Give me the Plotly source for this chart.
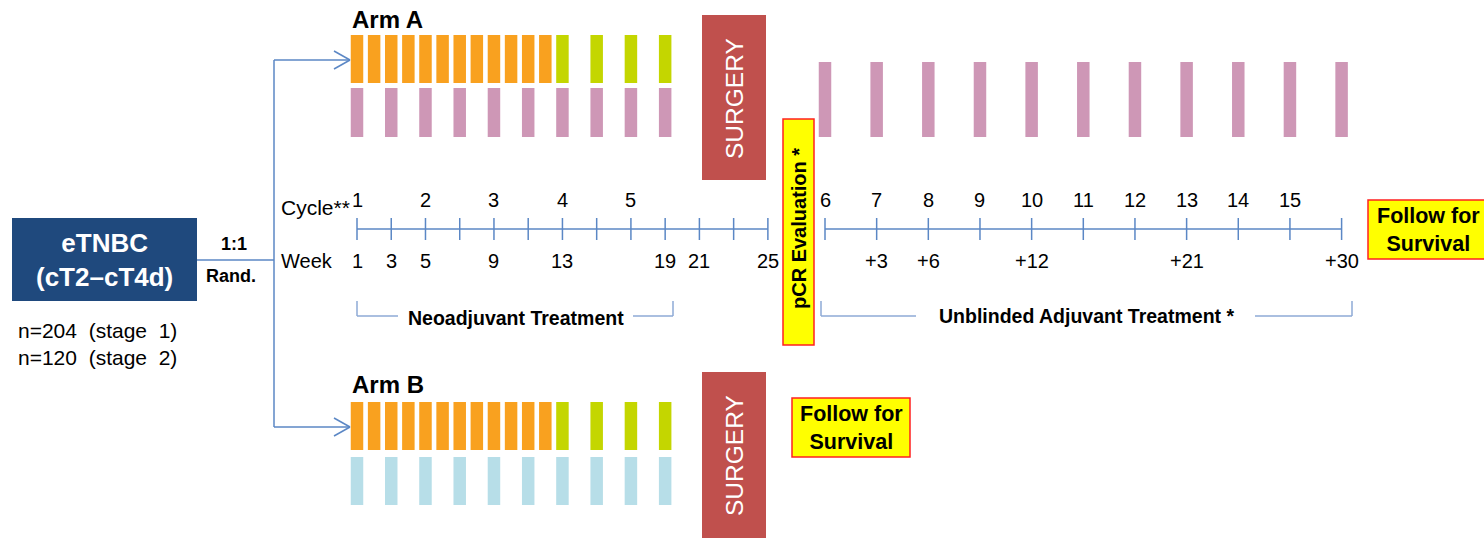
import plotly.graph_objects as go

# ---------------- data ----------------
neo_orange_weeks = list(range(1, 13))            # weekly (arm A & B)
neo_green_weeks = [13, 15, 17, 19]
neo_pink_weeks = [1, 3, 5, 7, 9, 11, 13, 15, 17, 19]   # arm A neoadjuvant
armB_blue_weeks = [1, 3, 5, 7, 9, 11, 13, 15, 17, 19]  # arm B neoadjuvant
neo_tick_weeks = list(range(1, 26, 2))
neo_week_labels = [1, 3, 5, 9, 13, 19, 21, 25]
neo_cycle_labels = ["1", "2", "3", "4", "5"]
neo_cycle_weeks = [1, 5, 9, 13, 17]

adj_tick_weeks = list(range(0, 31, 3))            # post-surgery weeks
adj_pink_weeks = list(range(0, 31, 3))
adj_cycle_labels = ["6", "7", "8", "9", "10", "11", "12", "13", "14", "15"]
adj_cycle_weeks = [0, 3, 6, 9, 12, 15, 18, 21, 24, 27]
adj_week_labels = ["+3", "+6", "+12", "+21", "+30"]
adj_week_label_weeks = [3, 6, 12, 21, 30]

# ---------------- styles / layout constants ----------------
W, H = 1484, 538
FONT = "Liberation Sans, Arial, sans-serif"
ORANGE = "#F9A11F"
GREEN = "#C4D600"
PINK = "#CE97B6"
LBLUE = "#B7DEE8"
LINE = "#5B87C5"
BRACKET = "#8EAAD6"
NAVY = "#1F497D"
SURG = "#C0504D"
YEL = "#FFFF00"

NEO_X0, NEO_PPW = 357.0, 17.12
ADJ_X0, ADJ_PPW = 825.0, 17.22
BAR_W = 12.5


def nx(w):
    return NEO_X0 + (w - 1) * NEO_PPW


def ax(w):
    return ADJ_X0 + w * ADJ_PPW


shapes = []
ann = []


def rect(x0, x1, y0, y1, fill, line=None, lw=0):
    shapes.append(dict(type="rect", xref="x", yref="y", x0=x0, x1=x1, y0=y0, y1=y1,
                       fillcolor=fill, line=dict(color=line or fill, width=lw), layer="below"))


def seg(x0, y0, x1, y1, color=LINE, width=1.5):
    shapes.append(dict(type="line", xref="x", yref="y", x0=x0, y0=y0, x1=x1, y1=y1,
                       line=dict(color=color, width=width)))


def text(x, y, s, size=19, bold=False, color="black", xa="center", ya="middle", angle=0):
    ann.append(dict(x=x, y=y, xref="x", yref="y", text=f"<b>{s}</b>" if bold else s,
                    showarrow=False, xanchor=xa, yanchor=ya, textangle=angle,
                    font=dict(family=FONT, size=size, color=color)))


def bars(xs, y0, y1, color):
    for c in xs:
        rect(c - BAR_W / 2, c + BAR_W / 2, y0, y1, color)


# Arm A bars
bars([nx(w) for w in neo_orange_weeks], 35, 83, ORANGE)
bars([nx(w) for w in neo_green_weeks], 35, 83, GREEN)
bars([nx(w) for w in neo_pink_weeks], 88, 137, PINK)
bars([ax(w) for w in adj_pink_weeks], 62, 137, PINK)
# Arm B bars
bars([nx(w) for w in neo_orange_weeks], 402, 450, ORANGE)
bars([nx(w) for w in neo_green_weeks], 402, 450, GREEN)
bars([nx(w) for w in armB_blue_weeks], 457, 505, LBLUE)

# Surgery boxes
rect(702, 766, 15, 180, SURG)
text(734, 99, "SURGERY", size=24.5, color="white", angle=-90)
rect(702, 766, 372, 540, SURG)
text(734, 456, "SURGERY", size=24.5, color="white", angle=-90)

# pCR evaluation box
rect(783, 814, 119, 345, YEL, "#FF2020", 1.5)
text(799, 229, "pCR Evaluation *", size=20, bold=True, angle=-90)

# Follow boxes
rect(1368, 1490, 200, 259, YEL, "#FF2020", 1.5)
text(1428, 230, "Follow for<br>Survival", size=21.5, bold=True)
rect(792, 910, 398, 457, YEL, "#FF2020", 1.5)
text(851, 428, "Follow for<br>Survival", size=21.5, bold=True)

# eTNBC box
rect(12, 197, 218, 301, NAVY)
text(104.5, 259.5, "eTNBC<br>(cT2–cT4d)", size=26, bold=True, color="white")
text(16, 330, "n=204&nbsp; (stage&nbsp; 1)", size=21, xa="left")
text(16, 357, "n=120&nbsp; (stage&nbsp; 2)", size=21, xa="left")

# randomisation connector
seg(197, 260, 274, 260)
seg(274, 60, 274, 427)
for yy in (60, 427):
    seg(274, yy, 350, yy)
    seg(334, yy - 9, 350, yy)
    seg(334, yy + 9, 350, yy)
text(234, 244, "1:1", size=18, bold=True)
text(231, 276, "Rand.", size=18, bold=True)

text(350, 19, "Arm A", size=24, bold=True, xa="left")
text(350, 384, "Arm B", size=24, bold=True, xa="left")

# timeline labels
text(279, 207, "Cycle**", size=21, xa="left")
text(279, 261, "Week", size=20, xa="left")

AXY = 229
seg(nx(neo_tick_weeks[0]), AXY, nx(neo_tick_weeks[-1]), AXY)
for w in neo_tick_weeks:
    seg(nx(w), AXY - 11, nx(w), AXY + 11)
for lab, w in zip(neo_cycle_labels, neo_cycle_weeks):
    text(nx(w), 200, lab, size=20)
for w in neo_week_labels:
    text(nx(w), 261, str(w), size=20)

seg(ax(adj_tick_weeks[0]), AXY, ax(adj_tick_weeks[-1]), AXY)
for w in adj_tick_weeks:
    seg(ax(w), AXY - 11, ax(w), AXY + 11)
for lab, w in zip(adj_cycle_labels, adj_cycle_weeks):
    text(ax(w), 200, lab, size=20)
for lab, w in zip(adj_week_labels, adj_week_label_weeks):
    text(ax(w), 261, lab, size=20)

# brackets
BY0, BY1 = 301, 316
seg(357, BY0, 357, BY1, BRACKET)
seg(357, BY1, 398, BY1, BRACKET)
seg(633, BY1, 673, BY1, BRACKET)
seg(673, BY1, 673, BY0, BRACKET)
text(516, 318, "Neoadjuvant Treatment", size=19.5, bold=True)

seg(821, BY0, 821, BY1, BRACKET)
seg(821, BY1, 916, BY1, BRACKET)
seg(1255, BY1, 1352, BY1, BRACKET)
seg(1352, BY1, 1352, BY0, BRACKET)
text(1086, 316, "Unblinded Adjuvant Treatment *", size=19.5, bold=True)

fig = go.Figure()
fig.add_trace(go.Scatter(x=[0, W], y=[0, H], mode="markers", marker=dict(opacity=0),
                         hoverinfo="skip", showlegend=False))
fig.update_layout(
    width=W, height=H, margin=dict(l=0, r=0, t=0, b=0),
    paper_bgcolor="white", plot_bgcolor="white",
    xaxis=dict(range=[0, W], visible=False, fixedrange=True),
    yaxis=dict(range=[H, 0], visible=False, fixedrange=True),
    shapes=shapes, annotations=ann, showlegend=False,
)
fig.write_html(
    "out.html",
    config={"displayModeBar": False},
    post_script="document.body.style.margin='0';document.body.style.overflow='hidden';",
)
